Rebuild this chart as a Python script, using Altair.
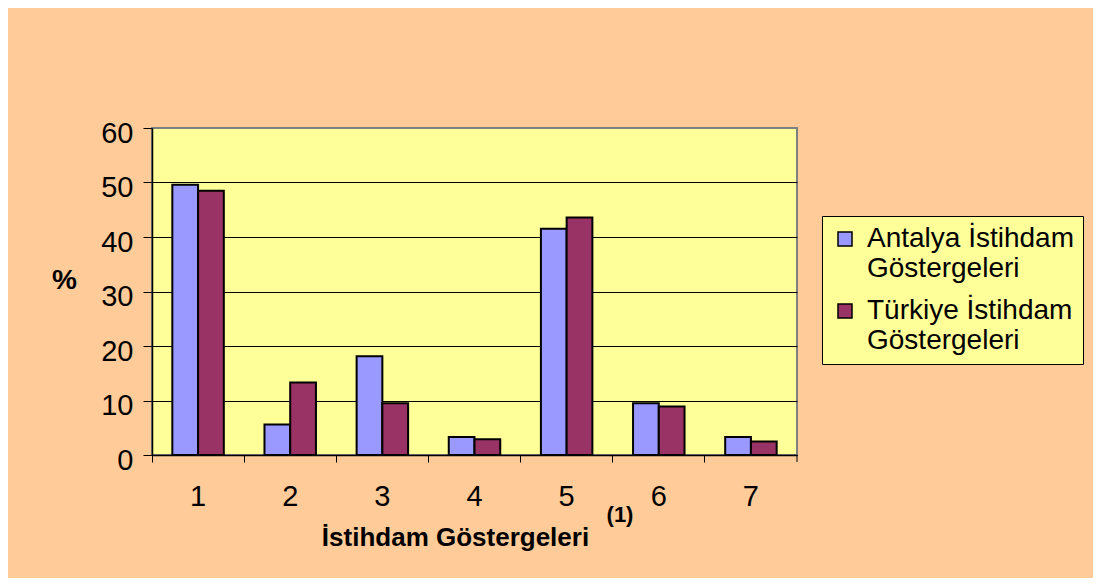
import altair as alt
import pandas as pd

categories = ["1", "2", "3", "4", "5", "6", "7"]
series_names = ["Antalya İstihdam\nGöstergeleri", "Türkiye İstihdam\nGöstergeleri"]
antalya = [49.6, 5.6, 18.1, 3.3, 41.5, 9.5, 3.3]
turkiye = [48.5, 13.3, 9.5, 2.9, 43.6, 8.9, 2.5]
colors = ["#9999FF", "#993366"]

rows = []
for c, a, t in zip(categories, antalya, turkiye):
    rows.append({"cat": c, "series": series_names[0], "value": a})
    rows.append({"cat": c, "series": series_names[1], "value": t})
df = pd.DataFrame(rows)

FONT = "Liberation Sans"
W, H = 645, 327

bars = alt.Chart(df).mark_bar(stroke="black", strokeWidth=2).encode(
    x=alt.X(
        "cat:N",
        sort=categories,
        scale=alt.Scale(paddingInner=0, paddingOuter=0),
        axis=alt.Axis(
            title="İstihdam Göstergeleri",
            titleFont=FONT, titleFontSize=26, titleFontWeight="bold", titleColor="black",
            titleX=303, titleY=90, titleAlign="center", titleBaseline="alphabetic",
            titleAnchor="start",
            labelAngle=0, labelFont=FONT, labelFontSize=29, labelColor="black",
            labelBaseline="alphabetic", labelPadding=43,
            bandPosition=0, ticks=True, tickSize=7, tickColor="black",
            domainColor="black", domainWidth=1.5, grid=False,
        ),
    ),
    xOffset=alt.XOffset(
        "series:N", sort=series_names,
        scale=alt.Scale(paddingInner=0, paddingOuter=0.79),
    ),
    y=alt.Y(
        "value:Q",
        scale=alt.Scale(domain=[0, 60], nice=False),
        axis=alt.Axis(
            values=[0, 10, 20, 30, 40, 50, 60],
            title="%", titleAngle=0, titleFont=FONT, titleFontSize=28,
            titleFontWeight="bold", titleColor="black",
            titleX=-88, titleY=160, titleAlign="center", titleBaseline="alphabetic",
            labelFont=FONT, labelFontSize=29, labelColor="black",
            labelBaseline="alphabetic", labelOffset=14, labelPadding=10,
            tickSize=9, tickColor="black", domainColor="black", domainWidth=1.5,
            grid=True,
            gridColor={"condition": {"test": "datum.value === 60", "value": "#808080"}, "value": "black"},
            gridWidth=1.2,
        ),
    ),
    color=alt.Color(
        "series:N",
        sort=series_names,
        scale=alt.Scale(domain=series_names, range=colors),
        legend=alt.Legend(
            title=None, orient="none", legendX=670, legendY=88,
            fillColor="#FFFF99", strokeColor="black", padding=9,
            symbolType="square", symbolSize=196, symbolStrokeColor="black",
            symbolStrokeWidth=1.5, symbolOpacity=1,
            labelFont=FONT, labelFontSize=28, labelColor="black",
            labelLimit=400, labelOffset=8, rowPadding=14,
            labelExpr="split(datum.label, '\\n')",
        ),
    ),
)

note = alt.Chart(pd.DataFrame({"t": ["(1)"]})).mark_text(
    font=FONT, fontSize=22, fontWeight="bold", color="black", align="center", baseline="alphabetic"
).encode(text="t:N", x=alt.value(468), y=alt.value(394))

end_tick = alt.Chart(pd.DataFrame({"t": [0]})).mark_rule(color="black", strokeWidth=1).encode(
    x=alt.value(W), y=alt.value(H), y2=alt.value(H + 7)
)

chart = alt.layer(bars, note, end_tick).properties(
    width=W, height=H,
    autosize=alt.AutoSizeParams(type="none"),
    padding={"left": 144, "top": 120, "right": 296, "bottom": 123},
    background="#FFCC99",
).configure_view(
    fill="#FFFF99", stroke="#808080", strokeWidth=2
)

chart.save("out.html", embed_options={"renderer": "svg", "actions": False})
